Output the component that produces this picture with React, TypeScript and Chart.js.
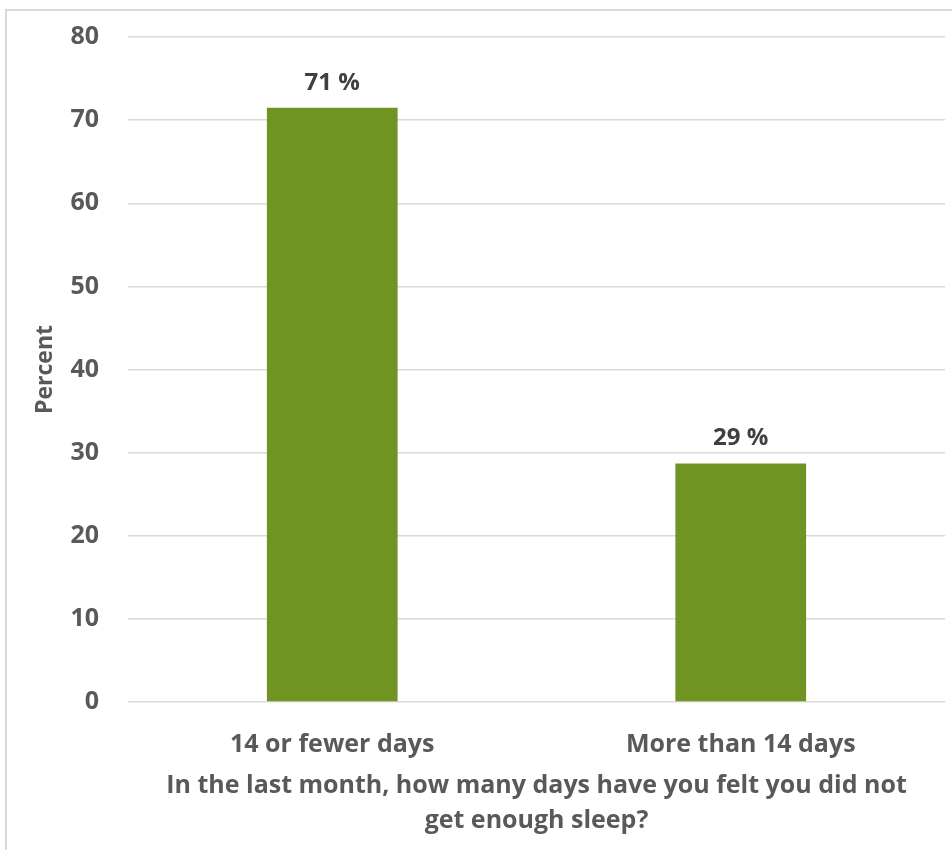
import React, { useEffect, useRef } from "react";
import { Chart, registerables } from "chart.js";

Chart.register(...registerables);

const categories = ["14 or fewer days", "More than 14 days"];
const percentValues = [71.5, 28.7];
const valueLabels = ["71 %", "29 %"];
const yTicks = [0, 10, 20, 30, 40, 50, 60, 70, 80];
const yAxisTitle = "Percent";
const xAxisTitle = [
  "In the last month, how many days have you felt you did not",
  "get enough sleep?",
];

const FONT = "'Open Sans', 'Liberation Sans', sans-serif";
const GRAY = "#595959";

const frame = {
  id: "frame",
  beforeDraw(chart: any) {
    const ctx = chart.ctx;
    ctx.save();
    ctx.fillStyle = "#ffffff";
    ctx.fillRect(0, 0, chart.width, chart.height);
    ctx.strokeStyle = "#d9d9d9";
    ctx.lineWidth = 2;
    ctx.strokeRect(6, 10, chart.width + 20, chart.height + 20);
    ctx.restore();
  },
};

const valueLabelPlugin = {
  id: "valueLabels",
  afterDatasetsDraw(chart: any) {
    const ctx = chart.ctx;
    const meta = chart.getDatasetMeta(0);
    ctx.save();
    ctx.font = `bold 24px ${FONT}`;
    ctx.fillStyle = "#404040";
    ctx.textAlign = "center";
    ctx.textBaseline = "middle";
    meta.data.forEach((bar: any, i: number) => {
      ctx.fillText(valueLabels[i], bar.x, bar.y - 25);
    });
    ctx.restore();
  },
};

export default function App() {
  const ref = useRef<HTMLCanvasElement>(null);
  useEffect(() => {
    const chart = new Chart(ref.current!, {
      type: "bar",
      data: {
        labels: categories,
        datasets: [
          {
            data: percentValues,
            backgroundColor: "#6f9421",
            barPercentage: 0.64,
            categoryPercentage: 0.5,
          },
        ],
      },
      options: {
        responsive: false,
        animation: false,
        layout: { padding: { top: 37, right: 7, left: 0, bottom: 0 } },
        plugins: { legend: { display: false }, tooltip: { enabled: false } },
        scales: {
          x: {
            grid: { display: false },
            border: { display: false },
            ticks: {
              color: GRAY,
              font: { family: FONT, size: 25, weight: "bold" },
              padding: 20,
            },
            title: {
              display: true,
              text: xAxisTitle,
              color: GRAY,
              font: { family: FONT, size: 25, weight: "bold", lineHeight: "35px" },
              padding: { top: 0, bottom: 12 },
            },
            afterFit(scale: any) {
              scale.height = 148;
              scale.paddingLeft = 0;
              scale.paddingRight = 0;
            },
          },
          y: {
            min: 0,
            max: 80,
            afterBuildTicks(scale: any) {
              scale.ticks = yTicks.map((v) => ({ value: v }));
            },
            grid: { color: "#d9d9d9", lineWidth: 1.5, drawTicks: false },
            border: { display: false },
            ticks: {
              color: GRAY,
              font: { family: FONT, size: 25, weight: "bold" },
              padding: 29,
            },
            title: {
              display: true,
              text: yAxisTitle,
              color: GRAY,
              font: { family: FONT, size: 23, weight: "bold" },
              padding: { top: 32, bottom: 0 },
            },
            afterFit(scale: any) {
              scale.width = 128;
              scale.paddingTop = 0;
              scale.paddingBottom = 0;
            },
          },
        },
      },
      plugins: [frame, valueLabelPlugin],
    });
    return () => chart.destroy();
  }, []);
  return (
    <div style={{ position: "absolute", left: 0, top: 0, width: 952, height: 850, overflow: "hidden" }}>
      <canvas ref={ref} width={952} height={850} style={{ display: "block" }} />
    </div>
  );
}
